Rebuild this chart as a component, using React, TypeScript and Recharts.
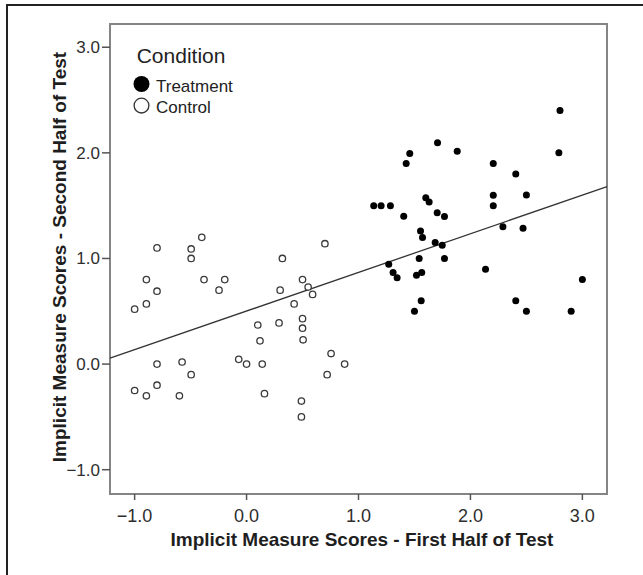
import React from 'react';
import { ScatterChart, Scatter, XAxis, YAxis, ReferenceArea, ReferenceLine, Legend, Label } from 'recharts';

const FONT = '"Liberation Sans", Arial, Helvetica, sans-serif';

const controlX = [-1.0, -1.0, -0.895, -0.895, -0.895, -0.8, -0.8, -0.8, -0.8, -0.576, -0.6, -0.495, -0.495, -0.495, -0.4, -0.38, -0.246, -0.195, -0.07, 0.0, 0.1, 0.12, 0.14, 0.16, 0.29, 0.3, 0.32, 0.425, 0.5, 0.55, 0.59, 0.5, 0.5, 0.505, 0.49, 0.49, 0.7, 0.755, 0.72, 0.876];
const controlY = [0.52, -0.25, 0.8, 0.57, -0.3, 1.1, 0.69, 0.0, -0.2, 0.02, -0.3, 1.09, 1.0, -0.1, 1.2, 0.8, 0.7, 0.8, 0.045, 0.0, 0.37, 0.22, 0.0, -0.28, 0.39, 0.7, 1.0, 0.57, 0.8, 0.73, 0.66, 0.43, 0.34, 0.23, -0.35, -0.5, 1.14, 0.1, -0.1, 0.0];

const treatmentX = [1.136, 1.202, 1.285, 1.27, 1.309, 1.345, 1.404, 1.426, 1.458, 1.5, 1.518, 1.542, 1.554, 1.572, 1.565, 1.56, 1.601, 1.631, 1.685, 1.703, 1.706, 1.748, 1.768, 1.768, 1.882, 2.135, 2.204, 2.204, 2.204, 2.29, 2.405, 2.405, 2.47, 2.5, 2.5, 2.79, 2.8, 2.9, 3.0];
const treatmentY = [1.5, 1.5, 1.5, 0.946, 0.868, 0.817, 1.4, 1.9, 1.995, 0.5, 0.842, 1.0, 1.261, 1.198, 0.868, 0.6, 1.576, 1.535, 1.151, 1.434, 2.095, 1.126, 1.397, 1.0, 2.016, 0.899, 1.9, 1.598, 1.5, 1.3, 1.8, 0.6, 1.285, 1.6, 0.5, 2.0, 2.4, 0.5, 0.8];

const xTicks = [-1, 0, 1, 2, 3];
const yTicks = [-1, 0, 1, 2, 3];
const xDomain = [-1.22, 3.22];
const yDomain = [-1.23, 3.22];

const fitIntercept = 0.502;
const fitSlope = 0.366;

const seriesNames = ['Treatment', 'Control'];
const legendTitle = 'Condition';
const xTitle = 'Implicit Measure Scores - First Half of Test';
const yTitle = 'Implicit Measure Scores - Second Half of Test';

const controlData = controlX.map((x, i) => ({ x, y: controlY[i] }));
const treatmentData = treatmentX.map((x, i) => ({ x, y: treatmentY[i] }));

const fmt = (v: number) => v.toFixed(1).replace('-', '\u2212');

const FilledDot = (props: any) => <circle cx={props.cx} cy={props.cy} r={3.5} fill="#000" />;
const OpenDot = (props: any) => (
  <circle cx={props.cx} cy={props.cy} r={3.2} fill="#fff" stroke="#3a3a3a" strokeWidth={1.3} />
);

const XTick = (props: any) => (
  <text x={props.x} y={props.y} dy={12.8} textAnchor="middle" fontSize={18} fill="#2e2e2e" fontFamily={FONT}>
    {fmt(props.payload.value)}
  </text>
);
const YTick = (props: any) => (
  <text x={props.x} y={props.y} dy={6} textAnchor="end" fontSize={17} fill="#2e2e2e" fontFamily={FONT}>
    {fmt(props.payload.value)}
  </text>
);

const LegendContent = (props: any) => {
  const payload = (props.payload || []) as any[];
  const items = seriesNames.filter((n) => payload.length === 0 || payload.some((p) => p.value === n));
  return (
    <svg width={130} height={90} style={{ display: 'block', overflow: 'visible' }}>
      <text x={6.7} y={23} fontSize={21} fill="#222" fontFamily={FONT}>{legendTitle}</text>
      {items.map((name, i) => (
        <g key={name}>
          {i === 0 ? (
            <circle cx={11.5} cy={44 + i * 21.6} r={8} fill="#000" />
          ) : (
            <circle cx={11.5} cy={44 + i * 21.6} r={7.4} fill="#fff" stroke="#333" strokeWidth={1.3} />
          )}
          <text x={26} y={51.5 + i * 21.2} fontSize={17} fill="#222" fontFamily={FONT}>{name}</text>
        </g>
      ))}
    </svg>
  );
};

export default function App() {
  return (
    <div style={{ position: 'absolute', left: 0, top: 0, width: 643, height: 575, background: '#fff', overflow: 'hidden' }}>
      <div style={{ position: 'absolute', left: 6, top: 4, width: 700, height: 700, borderLeft: '2px solid #222', borderTop: '2px solid #222' }} />
      <div style={{ position: 'absolute', left: 0, top: 0 }}>
        <ScatterChart width={643} height={575} margin={{ top: 24, right: 36, bottom: 41, left: 50 }}>
          <XAxis
            type="number"
            dataKey="x"
            domain={xDomain}
            ticks={xTicks}
            allowDataOverflow
            axisLine={false}
            tickLine={{ stroke: '#555', strokeWidth: 1.5 }}
            tickSize={6}
            tickMargin={9}
            height={40}
            tick={<XTick />}
            interval={0}
          >
            <Label
              content={() => (
                <text x={362} y={546} textAnchor="middle" fontSize={19} fontWeight="bold" fill="#1e1e1e" fontFamily={FONT}>
                  {xTitle}
                </text>
              )}
            />
          </XAxis>
          <YAxis
            type="number"
            dataKey="y"
            domain={yDomain}
            ticks={yTicks}
            allowDataOverflow
            axisLine={false}
            tickLine={{ stroke: '#555', strokeWidth: 1.5 }}
            tickSize={8}
            tickMargin={2}
            width={60}
            tick={<YTick />}
            interval={0}
          >
            <Label
              content={() => (
                <text x={66} y={257} transform="rotate(-90, 66, 257)" textAnchor="middle" fontSize={19} fontWeight="bold" fill="#1e1e1e" fontFamily={FONT}>
                  {yTitle}
                </text>
              )}
            />
          </YAxis>
          <ReferenceArea
            x1={xDomain[0]}
            x2={xDomain[1]}
            y1={yDomain[0]}
            y2={yDomain[1]}
            fill="none"
            fillOpacity={0}
            stroke="#858585"
            strokeWidth={2}
            ifOverflow="visible"
          />
          <ReferenceLine
            segment={[
              { x: xDomain[0], y: fitIntercept + fitSlope * xDomain[0] },
              { x: xDomain[1], y: fitIntercept + fitSlope * xDomain[1] },
            ]}
            stroke="#333"
            strokeWidth={1.3}
            ifOverflow="visible"
          />
          <Scatter name={seriesNames[0]} data={treatmentData} shape={<FilledDot />} fill="#000" isAnimationActive={false} />
          <Scatter name={seriesNames[1]} data={controlData} shape={<OpenDot />} fill="#fff" isAnimationActive={false} />
          <Legend
            layout="vertical"
            align="center"
            verticalAlign="middle"
            content={<LegendContent />}
            wrapperStyle={{ position: 'absolute', left: 130, top: 40, width: 130, height: 90 }}
          />
        </ScatterChart>
      </div>
    </div>
  );
}
